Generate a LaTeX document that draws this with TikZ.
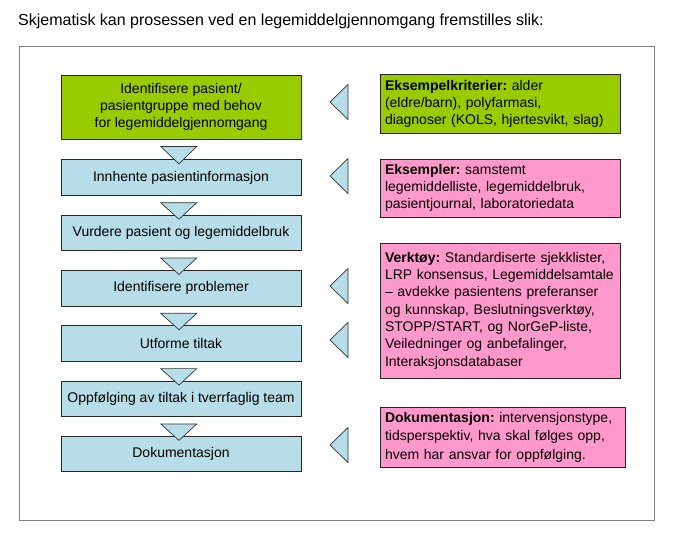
\documentclass[tikz,border=0pt]{standalone}
\usepackage{fontspec}
\setmainfont{Liberation Sans}
\usetikzlibrary{positioning,calc}
\definecolor{stepgreen}{HTML}{99CC00}
\definecolor{steppink}{HTML}{FF99CC}
\definecolor{stepblue}{HTML}{B7DEE8}
\definecolor{framegray}{HTML}{808080}
\frenchspacing

\begin{document}
\begin{tikzpicture}[x=1pt, y=-1pt,
    font=\fontsize{14}{17}\selectfont,
    node distance=19pt,
    stepbox/.style={draw=black!85, fill=stepblue, minimum width=240pt, minimum height=35.5pt, align=center, inner sep=2pt, line width=0.8pt},
    infobox/.style={draw=black!85, fill=steppink, text width=230pt, minimum height=#1, align=left, inner xsep=5pt, inner ysep=2pt, line width=0.8pt},
    downtri/.style={draw=black!80, fill=stepblue, line width=0.7pt},
    lefttri/.style={draw=black!80, fill=stepblue, line width=0.7pt}
]
\useasboundingbox (0,0) rectangle (696,555);
\fill[white] (0,0) rectangle (696,555);

% title and frame
\node[anchor=base west, inner sep=0pt, font=\fontsize{16}{19}\selectfont] (title) at (18,25) {Skjematisk kan prosessen ved en legemiddelgjennomgang fremstilles slik:};
\draw[framegray, line width=1pt] (19,46) rectangle (654,520);

% process steps
\node[stepbox, fill=stepgreen, minimum height=64pt] (identpas) at (181,107) {Identifisere pasient/\\pasientgruppe med behov\\for legemiddelgjennomgang};
\node[stepbox, below=20pt of identpas] (innhente) {Innhente pasientinformasjon};
\node[stepbox, below=of innhente] (vurdere) {Vurdere pasient og legemiddelbruk};
\node[stepbox, below=of vurdere] (problemer) {Identifisere problemer};
\node[stepbox, below=of problemer] (tiltak) {Utforme tiltak};
\node[stepbox, below=of tiltak] (oppfolg) {Oppfølging av tiltak i tverrfaglig team};
\node[stepbox, below=of oppfolg] (dokument) {Dokumentasjon};

% details
\node[infobox=59pt, fill=stepgreen] (kriterier) at (500,103.5) {\textbf{Eksempelkriterier:} alder\\(eldre/barn), polyfarmasi,\\diagnoser (KOLS, hjertesvikt, slag)};
\node[infobox=58pt] (eksempler) at (500,188) {\textbf{Eksempler:} samstemt\\legemiddelliste, legemiddelbruk,\\pasientjournal, laboratoriedata};
\node[infobox=135pt, font=\fontsize{14}{17.3}\selectfont] (verktoy) at (500,310.5) {\textbf{Verktøy:} Standardiserte sjekklister,\\LRP konsensus, Legemiddelsamtale\\– avdekke pasientens preferanser\\og kunnskap, Beslutningsverktøy,\\STOPP/START, og NorGeP-liste,\\Veiledninger og anbefalinger,\\Interaksjonsdatabaser};
\node[infobox=60pt, text width=235pt, font=\fontsize{14}{18.5}\selectfont] (dokinfo) at (502.5,437) {\textbf{Dokumentasjon:} intervensjonstype,\\tidsperspektiv, hva skal følges opp,\\hvem har ansvar for oppfølging.};

% arrows between steps
\foreach \a/\b in {identpas/innhente, innhente/vurdere, vurdere/problemer, problemer/tiltak, tiltak/oppfolg, oppfolg/dokument}
  \draw[downtri] ($(\a.south)+(-20.3,7)$) -- ($(\a.south)+(15.7,7)$) -- ($(\b.north)+(-2,4.5)$) -- cycle;

% arrows towards steps
\foreach \y in {102,176,286,340,445}
  \draw[lefttri] (348,\y-17.5) -- (348,\y+17.5) -- (330,\y) -- cycle;
\end{tikzpicture}
\end{document}
